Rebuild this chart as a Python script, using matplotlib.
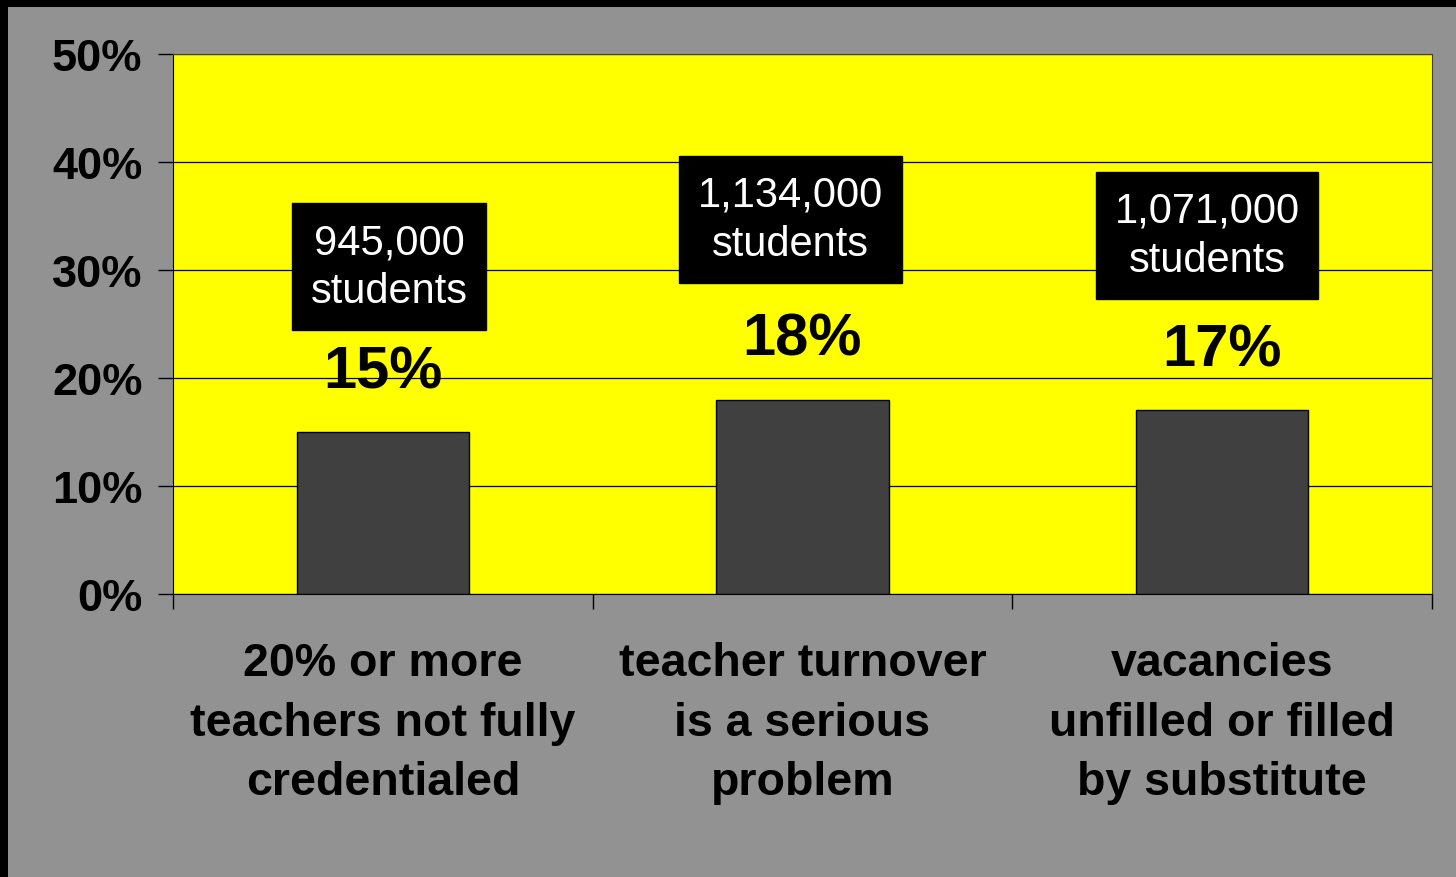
import numpy as np
import matplotlib.pyplot as plt
from matplotlib.patches import Rectangle

plt.rcParams['font.family'] = ['Liberation Sans', 'DejaVu Sans']

# data
categories = ['20% or more\nteachers not fully\ncredentialed',
              'teacher turnover\nis a serious\nproblem',
              'vacancies\nunfilled or filled\nby substitute']
percents = [15, 18, 17]
students = ['945,000\nstudents', '1,134,000\nstudents', '1,071,000\nstudents']
yticks = [0, 10, 20, 30, 40, 50]

bg = '#929292'
fig = plt.figure(figsize=(14.56, 8.78), dpi=100, facecolor=bg)
ax = fig.add_axes([173/1456, 1-595/878, (1432-173)/1456, (595-55)/878])
ax.set_facecolor('#ffff00')

x = np.arange(len(categories))
ax.bar(x, percents, width=0.41, color='#404040', edgecolor='black', linewidth=1, zorder=3)

ax.set_xlim(-0.5, 2.5)
ax.set_ylim(0, 50)
ax.set_yticks(yticks)
ax.set_yticklabels([f'{v}%' for v in yticks], fontsize=32.5, fontweight='bold')
ax.tick_params(axis='y', length=11, width=1, pad=11)
ax.yaxis.grid(True, color='black', linewidth=0.9, zorder=1)
ax.set_axisbelow(True)

ax.set_xticks(x)
ax.set_xticklabels(categories, fontsize=33.5, fontweight='bold', linespacing=1.45)
ax.tick_params(axis='x', which='major', length=0, pad=34)
ax.set_xticks([-0.5, 0.5, 1.5, 2.5], minor=True)
ax.tick_params(axis='x', which='minor', length=11, width=1)

for s in ['left', 'bottom']:
    ax.spines[s].set_color('black')
for s in ['top', 'right']:
    ax.spines[s].set_color('#404040')

# value labels
for xi, v in zip(x, percents):
    ax.text(xi, v + 5.6, f'{v}%', ha='center', va='center',
            fontsize=43, fontweight='bold', color='black', zorder=4)

# student count boxes
box_x = [0.015, 0.972, 1.964]
box_y = [30.3, 34.7, 33.2]
for bx, by, s in zip(box_x, box_y, students):
    ax.text(bx, by, s, ha='center', va='center', fontsize=30, color='white',
            linespacing=1.3, zorder=5,
            bbox=dict(boxstyle='square,pad=0.45', facecolor='black', edgecolor='black'))

# black frame at top and left
fig.patches.append(Rectangle((0, 1-8/878), 1, 8/878, transform=fig.transFigure,
                             facecolor='black', edgecolor='none'))
fig.patches.append(Rectangle((0, 0), 8/1456, 1, transform=fig.transFigure,
                             facecolor='black', edgecolor='none'))

fig.savefig('out.png', dpi=100, facecolor=bg)
